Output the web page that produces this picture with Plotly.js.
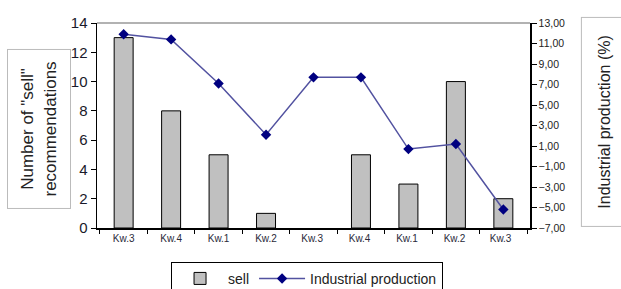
<!DOCTYPE html>
<html>
<head>
<meta charset="utf-8">
<script src="https://cdn.plot.ly/plotly-3.0.1.min.js"></script>
<style>html,body{margin:0;padding:0;background:#fff;}#chart{width:621px;height:289px;}</style>
</head>
<body>
<div id="chart"></div>
<script>
const categories = ["Kw.3", "Kw.4", "Kw.1", "Kw.2", "Kw.3 ", "Kw.4 ", "Kw.1 ", "Kw.2 ", "Kw.3  "];
const sellValues = [13, 8, 5, 1, 0, 5, 3, 10, 2];
const productionValues = [11.9, 11.4, 7.1, 2.1, 7.7, 7.7, 0.7, 1.2, -5.2];
const leftTicks = [0, 2, 4, 6, 8, 10, 12, 14];
const rightTicks = [-7, -5, -3, -1, 1, 3, 5, 7, 9, 11, 13];

const fontFam = "Liberation Sans, Arial, sans-serif";

const traces = [
  {
    type: "bar", name: "sell", x: categories, y: sellValues,
    marker: {color: "#c0c0c0", line: {color: "#000", width: sellValues.map(v => v > 0 ? 1 : 0)}},
    width: 0.4
  },
  {
    type: "scatter", mode: "lines+markers", name: "Industrial production",
    x: categories, y: productionValues, yaxis: "y2",
    line: {color: "#5252a0", width: 1.5},
    marker: {symbol: "diamond", size: 8, color: "#000080"}
  }
];

const layout = {
  width: 621, height: 289,
  margin: {l: 97, r: 91, t: 23, b: 61, autoexpand: false},
  paper_bgcolor: "#fff", plot_bgcolor: "#fff",
  separators: ",.",
  font: {family: fontFam, color: "#222"},
  showlegend: true,
  xaxis: {
    type: "category", tickson: "boundaries", ticks: "outside", ticklen: 4,
    tickcolor: "#000", showline: true, linecolor: "#000", linewidth: 1.5,
    showgrid: false, tickfont: {size: 10, color: "#2a2a3a"}, fixedrange: true
  },
  yaxis: {
    range: [0, 14], tickvals: leftTicks, ticks: "outside", ticklen: 5,
    tickcolor: "#000", showline: true, linecolor: "#000", linewidth: 1.5,
    showgrid: false, zeroline: false, tickfont: {size: 15, color: "#1a1a2a"}
  },
  yaxis2: {
    overlaying: "y", side: "right", range: [-7, 13], tickvals: rightTicks,
    tickformat: ".2f", ticksuffix: "%", ticks: "outside", ticklen: 5,
    tickcolor: "#000", showline: true, linecolor: "#000", linewidth: 1.5,
    showgrid: false, zeroline: false, tickfont: {size: 10.5, color: "#222"}
  },
  legend: {
    orientation: "h", x: 0.171, xanchor: "left", y: -0.165, yanchor: "top",
    bordercolor: "#000", borderwidth: 1, font: {size: 14, color: "#222"},
    itemwidth: 46
  },
  shapes: [
    {type: "line", xref: "paper", yref: "paper", x0: 0, x1: 1, y0: 1, y1: 1,
     line: {color: "#999", width: 1.5}}
  ],
  annotations: [
    {
      xref: "paper", yref: "paper", x: -0.134, y: 0.483, xanchor: "center", yanchor: "middle",
      text: "Number of \"sell\"<br>recommendations", showarrow: false, textangle: -90,
      font: {size: 17, color: "#222"}, bordercolor: "#bbb", borderwidth: 1,
      width: 156, height: 60
    },
    {
      xref: "paper", yref: "paper", x: 1.173, y: 0.517, xanchor: "center", yanchor: "middle",
      text: "Industrial production (%)", showarrow: false, textangle: -90,
      font: {size: 16, color: "#222"}, bordercolor: "#bbb", borderwidth: 1,
      width: 206, height: 44
    }
  ]
};

Plotly.newPlot("chart", traces, layout, {displayModeBar: false, staticPlot: true});
</script>
</body>
</html>
